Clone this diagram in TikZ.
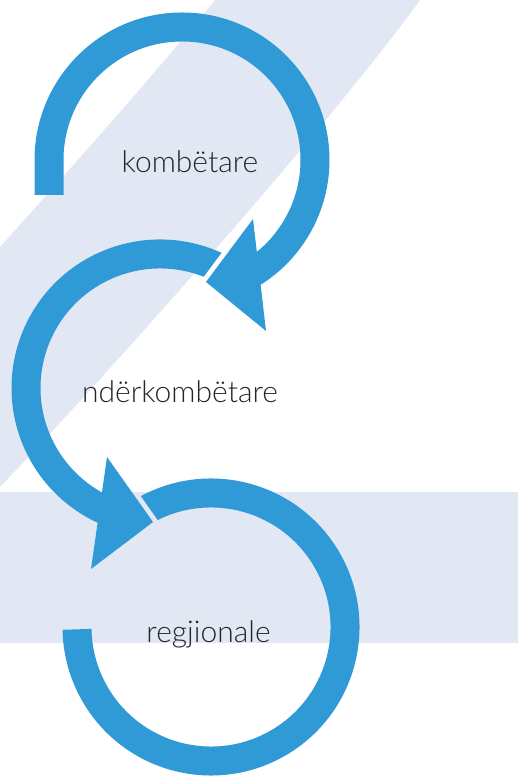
\documentclass[tikz,border=0pt]{standalone}
\usepackage{fontspec}
\newfontfamily\lblfont{Lato Light}
\definecolor{arrowblue}{RGB}{47,154,214}
\definecolor{bandgray}{RGB}{225,232,243}
\definecolor{textgray}{RGB}{38,38,42}
\tikzstyle{ring} = [draw = arrowblue, line width = 29pt, line cap = butt]
\tikzstyle{tiphead} = [fill = arrowblue]
\tikzstyle{band} = [fill = bandgray]
\tikzstyle{levelname} = [text = textgray, anchor = base, inner sep = 0pt, 
	font = \lblfont\fontsize{30}{36}\selectfont]

\begin{document}
\begin{tikzpicture}[x = 1pt, y = 1pt]

\useasboundingbox (0,0) rectangle (518,778);
\clip (0,0) rectangle (518,778);

\path [band] (215,778) .. controls (150,698) and (60,598) .. (0,531) -- (0,291) 
	.. controls (135,433) and (345,673) .. (420,778) -- cycle;
\path [band] (0,135) rectangle (518,286);

\coordinate (c1) at (182,618);
\coordinate (c2) at (160,390);
\coordinate (c3) at (211,151);

\coordinate (a1) at (253,559);
\coordinate (t1) at (206,496);
\coordinate (b1) at (266,447);
\coordinate (a2) at (107,321);
\coordinate (t2) at (153,256);
\coordinate (b2) at (91,209);

\begin{scope}
	\clip (-10,-10) -- (530,-10) -- (530,790) -- (-10,790) -- cycle
		(105.3,332.1) -- (162.9,250.7) -- (120,195) -- (70,300) -- cycle;
	\draw [ring] (c3) ++(120:134) arc [start angle = 120, end angle = -179, radius = 134];
\end{scope}

\begin{scope}
	\clip (-10,-10) -- (530,-10) -- (530,790) -- (-10,790) -- cycle
		(196,491) -- (255,570) -- (310,560) -- (280,430) -- cycle;
	\draw [ring] (c2) ++(64:134) arc [start angle = 64, end angle = 247, radius = 134];
\end{scope}

\draw [ring] (c1) ++(-133,-35) -- ++(0,35) 
	arc [start angle = 180, end angle = -58, radius = 133];

\path [tiphead] (a1) -- (t1) -- (b1) -- cycle;
\path [tiphead] (a2) -- (t2) -- (b2) -- cycle;

\node (kombetare) [levelname] at (190,605) {kombëtare};
\node (nderkombetare) [levelname] at (180,375) {ndërkombëtare};
\node (regjionale) [levelname] at (208.5,135) {regjionale};

\end{tikzpicture}
\end{document}
